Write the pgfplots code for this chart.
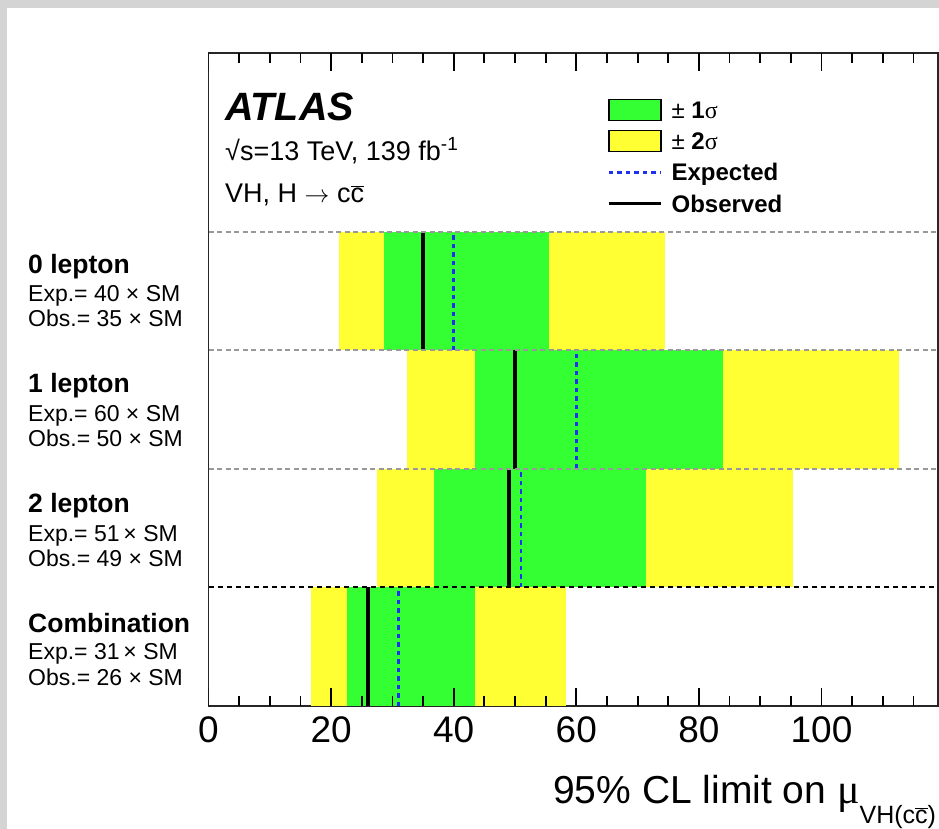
\documentclass[border=0pt]{standalone}
\usepackage{fontspec}
\setmainfont{Liberation Sans}
\newfontfamily\symf{Liberation Serif}
\usepackage{pgfplots}
\pgfplotsset{compat=1.18}

\definecolor{onesig}{HTML}{33FF33}
\definecolor{twosig}{HTML}{FFFF33}
\definecolor{expblue}{HTML}{1F30F0}
\definecolor{sepgray}{HTML}{999999}

\newcommand\fs[1]{\fontsize{#1bp}{#1bp}\selectfont}
\newcommand\cbar{$\overline{\hbox{c}}$}

\begin{document}
\begin{tikzpicture}
\fill[white] (0,0) rectangle (939bp,-829bp);
\fill[black!17] (0,0) rectangle (939bp,-8bp);
\fill[black!17] (0,0) rectangle (7bp,-829bp);

\begin{axis}[
  at={(208.5bp,-706bp)}, anchor=south west,
  width=729.5bp, height=653bp, scale only axis,
  xmin=0, xmax=119, ymin=0, ymax=5.51,
  xtick={0,20,...,100},
  minor xtick={5,10,...,115},
  ytick=\empty,
  tick align=inside,
  major tick length=18bp, minor tick length=10bp,
  tick style={line width=1.8bp, black},
  axis line style={line width=1.8bp, black!85},
  /pgf/number format/assume math mode=true,
  xticklabel style={font=\fs{37}, inner sep=0pt, yshift=-10bp},
  legend style={at={(0.5463,0.9299)}, anchor=north west, draw=none, fill=none,
    inner sep=0pt, outer sep=0pt, row sep=8.5bp,
    font=\fs{24}\bfseries,
    nodes={inner sep=0pt, text height=17bp, text depth=0bp},
    /tikz/every odd column/.append style={column sep=9bp}},
  legend cell align=left,
  every axis plot/.append style={forget plot},
  exp line/.style={expblue, line width=2.6bp, dash pattern=on 4.5bp off 4bp},
  obs line/.style={black, line width=3.6bp},
]

% +/- 2 sigma bands
\addplot[draw=none, fill=twosig] coordinates {(21.3,3) (74.4,3) (74.4,4) (21.3,4)};
\addplot[draw=none, fill=twosig] coordinates {(32.4,2) (112.6,2) (112.6,3) (32.4,3)};
\addplot[draw=none, fill=twosig] coordinates {(27.5,1) (95.4,1) (95.4,2) (27.5,2)};
\addplot[draw=none, fill=twosig] coordinates {(16.8,0) (58.3,0) (58.3,1) (16.8,1)};
% +/- 1 sigma bands
\addplot[draw=none, fill=onesig] coordinates {(28.7,3) (55.6,3) (55.6,4) (28.7,4)};
\addplot[draw=none, fill=onesig] coordinates {(43.4,2) (83.9,2) (83.9,3) (43.4,3)};
\addplot[draw=none, fill=onesig] coordinates {(36.8,1) (71.3,1) (71.3,2) (36.8,2)};
\addplot[draw=none, fill=onesig] coordinates {(22.6,0) (43.5,0) (43.5,1) (22.6,1)};
% expected limits
\addplot[exp line] coordinates {(40,3) (40,4)};
\addplot[exp line] coordinates {(60,2) (60,3)};
\addplot[exp line] coordinates {(51,1) (51,2)};
\addplot[exp line] coordinates {(31,0) (31,1)};
% observed limits
\addplot[obs line] coordinates {(35,3) (35,4)};
\addplot[obs line] coordinates {(50,2) (50,3)};
\addplot[obs line] coordinates {(49,1) (49,2)};
\addplot[obs line] coordinates {(26,0) (26,1)};
% channel separators
\addplot[sepgray, line width=2bp, dash pattern=on 5bp off 3.5bp] coordinates {(0,4) (119,4)};
\addplot[sepgray, line width=2bp, dash pattern=on 5bp off 3.5bp] coordinates {(0,3) (119,3)};
\addplot[sepgray, line width=2bp, dash pattern=on 5bp off 3.5bp] coordinates {(0,2) (119,2)};
\addplot[black, line width=2bp, dash pattern=on 5.5bp off 3.5bp] coordinates {(0,1) (119,1)};

% inward tick marks on the bottom and top edges
\pgfplotsinvokeforeach{0,20,40,60,80,100}{
  \draw[black, line width=1.8bp] (axis cs:#1,0) -- ++(0bp,18bp);
  \draw[black, line width=1.8bp] (axis cs:#1,5.51) -- ++(0bp,-18bp);
}
\pgfplotsinvokeforeach{5,10,15,25,30,35,45,50,55,65,70,75,85,90,95,105,110,115}{
  \draw[black, line width=1.8bp] (axis cs:#1,0) -- ++(0bp,10bp);
  \draw[black, line width=1.8bp] (axis cs:#1,5.51) -- ++(0bp,-10bp);
}

% legend
\addlegendimage{legend image code/.code={\draw[line width=1.5bp, black, fill=onesig] (0bp,-10.5bp) rectangle (52bp,10.5bp);}}
\addlegendentry{{\fontseries{m}\selectfont ±} 1{\fontseries{m}\symf σ}}
\addlegendimage{legend image code/.code={\draw[line width=1.5bp, black, fill=twosig] (0bp,-10.5bp) rectangle (52bp,10.5bp);}}
\addlegendentry{{\fontseries{m}\selectfont ±} 2{\fontseries{m}\symf σ}}
\addlegendimage{legend image code/.code={\path (0bp,-11.25bp) (52bp,11.25bp); \draw[expblue, line width=2.6bp, dash pattern=on 4.5bp off 4bp] (0bp,0bp) -- (52bp,0bp);}}
\addlegendentry{Expected}
\addlegendimage{legend image code/.code={\path (0bp,-11.25bp) (52bp,11.25bp); \draw[black, line width=3.6bp] (0bp,0bp) -- (52bp,0bp);}}
\addlegendentry{Observed}
\end{axis}

% labels inside the frame
\node[anchor=base west, inner sep=0pt] at (225bp,-120bp) {\fs{39.5}\bfseries\itshape ATLAS};
\node[anchor=base west, inner sep=0pt] at (225bp,-160bp) {\fs{27}√s=13 TeV, 139 fb\raisebox{9.5bp}{\fs{19}-1}};
\node[anchor=base west, inner sep=0pt] at (225bp,-202bp) {\fs{27}VH, H $\rightarrow$ c\cbar};

% channel labels
\begin{scope}[every node/.style={anchor=base west, inner sep=0pt}]
\node at (28bp,-273bp) {\fs{26.5}\bfseries 0 lepton};
\node at (28bp,-301bp) {\fs{23}Exp.= 40 × SM};
\node at (28bp,-326bp) {\fs{23}Obs.= 35 × SM};
\node at (28bp,-392bp) {\fs{26.5}\bfseries 1 lepton};
\node at (28bp,-421bp) {\fs{23}Exp.= 60 × SM};
\node at (28bp,-446bp) {\fs{23}Obs.= 50 × SM};
\node at (28bp,-512.5bp) {\fs{26.5}\bfseries 2 lepton};
\node at (28bp,-541bp) {\fs{23}Exp.= 51\,× SM};
\node at (28bp,-566bp) {\fs{23}Obs.= 49 × SM};
\node at (28bp,-632bp) {\fs{26.5}\bfseries Combination};
\node at (28bp,-659.5bp) {\fs{23}Exp.= 31\,× SM};
\node at (28bp,-685bp) {\fs{23}Obs.= 26 × SM};
\end{scope}

% x-axis title
\node[anchor=base west, inner sep=0pt] at (553bp,-803bp)
  {\fs{39}95\% CL limit on {\symf\fs{42}μ}\raisebox{-20bp}{\fs{25}VH(c\cbar)}};
\useasboundingbox (0,0) rectangle (939bp,-829bp);
\end{tikzpicture}
\end{document}
